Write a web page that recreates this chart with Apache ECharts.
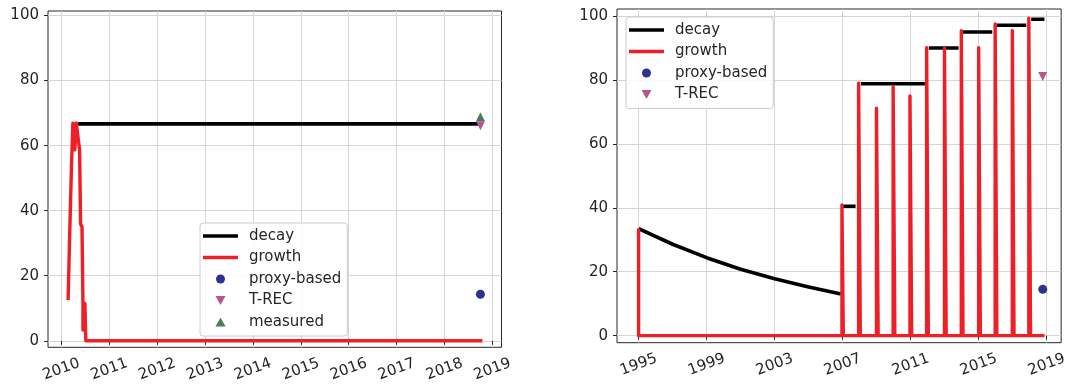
<!DOCTYPE html>
<html>
<head>
<meta charset="utf-8">
<script src="https://cdn.jsdelivr.net/npm/echarts@6/dist/echarts.min.js"></script>
<style>
  html, body { margin: 0; padding: 0; background: #fff; }
  #chart { width: 1070px; height: 385px; }
</style>
</head>
<body>
<div id="chart"></div>
<script>
// ---- Left panel (2010-2019) ----
const leftTicksX = [2010, 2011, 2012, 2013, 2014, 2015, 2016, 2017, 2018, 2019];
const decayLeftYears  = [2010.35, 2018.79];
const decayLeftValues = [66.7, 66.7];
const growthLeftYears  = [2010.14, 2010.17, 2010.21, 2010.24, 2010.28, 2010.31, 2010.34, 2010.38, 2010.40, 2010.43, 2010.45, 2010.45, 2010.49, 2010.51, 2018.79];
const growthLeftValues = [12.5, 31, 53.5, 66.9, 58.7, 67, 67, 58.7, 36, 35, 11.5, 3.3, 11.5, 0, 0];
const proxyLeft    = [2018.75, 14.3];
const trecLeft     = [2018.75, 66.1];
const measuredLeft = [2018.75, 68.9];

// ---- Right panel (1995-2019) ----
const rightTicksX = [1995, 1999, 2003, 2007, 2011, 2015, 2019];
// null values break the decay line into separate segments
const decayRightYears  = [1995, 1997, 1999, 2001, 2003, 2005, 2006.9, 2006.93,
                          2006.96, 2007.76, 2007.9, 2008.07, 2011.84, 2011.95,
                          2012.07, 2013.82, 2013.9, 2014.05, 2015.8, 2015.9,
                          2016.05, 2017.8, 2017.9, 2018.09, 2018.87];
const decayRightValues = [33.5, 28.6, 24.4, 20.8, 17.8, 15.2, 13.0, null,
                          40.5, 40.5, null, 78.8, 78.8, null,
                          90.0, 90.0, null, 95.0, 95.0, null,
                          97.1, 97.1, null, 99.0, 99.0];
const growthRightYears  = [1995, 1995, 2006.96, 2006.96, 2007.04, 2007.94, 2007.94, 2008.04,
                           2008.99, 2008.99, 2009.09, 2009.97, 2009.97, 2010.07,
                           2010.96, 2010.96, 2011.06, 2011.94, 2011.94, 2012.04,
                           2012.99, 2012.99, 2013.09, 2013.98, 2013.98, 2014.08,
                           2015.00, 2015.00, 2015.10, 2015.97, 2015.97, 2016.07,
                           2016.98, 2016.98, 2017.08, 2017.95, 2017.95, 2018.05, 2018.87];
const growthRightValues = [33.5, 0, 0, 40.9, 0, 0, 79.0, 0,
                           0, 71.2, 0, 0, 77.9, 0,
                           0, 75.0, 0, 0, 90.1, 0,
                           0, 90.0, 0, 0, 95.4, 0,
                           0, 90.1, 0, 0, 97.5, 0,
                           0, 95.4, 0, 0, 99.3, 0, 0];
const proxyRight = [2018.77, 14.5];
const trecRight  = [2018.77, 81.1];

const yTicks = [0, 20, 40, 60, 80, 100];

const RED = '#ee1f26';
const BLACK = '#000000';
const NAVY = '#2c3192';
const PINK = '#b85590';
const GREEN = '#4b7d5c';
const FRAME = '#262626';
const GRID = '#d6d6d6';
const FONT = 'DejaVu Sans';
const DOWN_TRI = 'path://M0,0 L10,0 L5,9 Z';
const UP_TRI = 'path://M5,0 L10,9 L0,9 Z';
const LINE_ICON = 'path://M0,0 L35,0 L35,3.6 L0,3.6 Z';

const zip = (xs, ys) => xs.map((x, i) => [x, ys[i] === null ? '-' : ys[i]]);

function xAxisFor(gridIndex, min, max, ticks) {
  return {
    type: 'value', gridIndex, min, max,
    axisLine: { show: false },
    axisTick: { show: true, customValues: ticks, length: 4, lineStyle: { color: FRAME, width: 1 } },
    axisLabel: {
      customValues: ticks, rotate: 20, align: 'center', verticalAlign: 'middle',
      margin: 22, fontFamily: FONT, fontSize: 15, color: FRAME,
      formatter: v => String(Math.round(v))
    },
    splitLine: { show: true, lineStyle: { color: GRID, width: 1 } }
  };
}
function yAxisFor(gridIndex, min, max) {
  return {
    type: 'value', gridIndex, min, max,
    axisLine: { show: false },
    axisTick: { show: true, customValues: yTicks, length: 4, lineStyle: { color: FRAME, width: 1 } },
    axisLabel: {
      customValues: yTicks, margin: 9, fontFamily: FONT, fontSize: 15, color: FRAME,
      formatter: v => String(Math.round(v))
    },
    splitLine: { show: true, lineStyle: { color: GRID, width: 1 } }
  };
}

const lineSeries = (name, idx, data, color, width, z) => ({
  name, type: 'line', xAxisIndex: idx, yAxisIndex: idx, data,
  showSymbol: false, symbol: 'none', clip: false, connectNulls: false,
  lineStyle: { color, width, join: 'round', cap: 'butt' }, itemStyle: { color },
  z, animation: false
});
const pointSeries = (name, idx, pt, symbol, color, size) => ({
  name, type: 'scatter', xAxisIndex: idx, yAxisIndex: idx, data: [pt],
  symbol, symbolSize: size, itemStyle: { color, opacity: 1 }, z: 5, animation: false
});

const legendBase = {
  orient: 'vertical', itemWidth: 35, itemHeight: 9, itemGap: 5.5,
  padding: [5, 6, 6, 3], symbolKeepAspect: true,
  backgroundColor: 'rgba(255,255,255,0.85)', borderColor: '#cccccc', borderWidth: 1, borderRadius: 3,
  textStyle: { fontFamily: FONT, fontSize: 15, color: FRAME, lineHeight: 16, padding: [0, 0, 0, 6] },
  selectedMode: false
};

const option = {
  animation: false,
  backgroundColor: '#ffffff',
  grid: [
    { left: 48, top: 11, width: 453.5, height: 336.3, show: true, borderColor: FRAME, borderWidth: 1, backgroundColor: 'transparent', z: 0 },
    { left: 617, top: 9, width: 447, height: 333.7, show: true, borderColor: FRAME, borderWidth: 1, backgroundColor: 'transparent', z: 0 }
  ],
  xAxis: [
    xAxisFor(0, 2009.72, 2019.19, leftTicksX),
    xAxisFor(1, 1993.73, 2019.85, rightTicksX)
  ],
  yAxis: [
    yAxisFor(0, -2.0, 101.4),
    yAxisFor(1, -2.2, 102.2)
  ],
  legend: [
    Object.assign({}, legendBase, {
      left: 200, top: 223,
      data: [
        { name: 'decay', icon: LINE_ICON }, { name: 'growth', icon: LINE_ICON },
        { name: 'proxy-based', icon: 'circle' },
        { name: 'T-REC', icon: DOWN_TRI },
        { name: 'measured', icon: UP_TRI }
      ]
    }),
    Object.assign({}, legendBase, {
      left: 626, top: 17,
      data: [
        { name: 'decay ', icon: LINE_ICON }, { name: 'growth ', icon: LINE_ICON },
        { name: 'proxy-based ', icon: 'circle' },
        { name: 'T-REC ', icon: DOWN_TRI }
      ],
      formatter: n => n.trim()
    })
  ],
  series: [
    lineSeries('decay', 0, zip(decayLeftYears, decayLeftValues), BLACK, 3.6, 2),
    lineSeries('growth', 0, zip(growthLeftYears, growthLeftValues), RED, 3.4, 3),
    pointSeries('proxy-based', 0, proxyLeft, 'circle', NAVY, 9),
    pointSeries('T-REC', 0, trecLeft, DOWN_TRI, PINK, 9),
    pointSeries('measured', 0, measuredLeft, UP_TRI, GREEN, 9),

    lineSeries('decay ', 1, zip(decayRightYears, decayRightValues), BLACK, 3.6, 2),
    lineSeries('growth ', 1, zip(growthRightYears, growthRightValues), RED, 3.4, 3),
    pointSeries('proxy-based ', 1, proxyRight, 'circle', NAVY, 9),
    pointSeries('T-REC ', 1, trecRight, DOWN_TRI, PINK, 9)
  ]
};

const chart = echarts.init(document.getElementById('chart'), null, { renderer: 'canvas' });
chart.setOption(option);
</script>
</body>
</html>
